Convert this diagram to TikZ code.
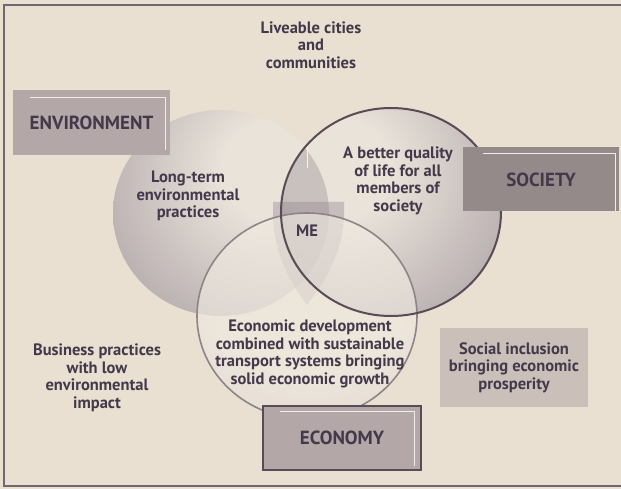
\documentclass[tikz,border=0pt]{standalone}
\usepackage{fontspec}
\setmainfont{PT Sans}
\usepackage{tikz}

\definecolor{paper}{HTML}{E9E0D2}
\definecolor{ink}{HTML}{43394A}
\definecolor{boxgray}{HTML}{B3A8A7}
\definecolor{boxdark}{HTML}{958A8A}
\definecolor{boxlite}{HTML}{CBC0B9}
\definecolor{rimdark}{HTML}{5A4B55}
\definecolor{rimlite}{HTML}{8E8487}
\definecolor{sphlite}{HTML}{EAE3DA}
\definecolor{sphdark}{HTML}{928790}
\definecolor{lowlite}{HTML}{F0EAE1}
\definecolor{lowdark}{HTML}{C6BCB8}

\pgfdeclareradialshading{sphleft}{\pgfpoint{14bp}{12bp}}{color(0bp)=(sphlite); color(12bp)=(sphlite); color(58bp)=(sphdark); color(100bp)=(sphdark)}
\pgfdeclareradialshading{sphright}{\pgfpoint{-14bp}{12bp}}{color(0bp)=(sphlite); color(12bp)=(sphlite); color(58bp)=(sphdark); color(100bp)=(sphdark)}
\pgfdeclareradialshading{sphlow}{\pgfpoint{0bp}{14bp}}{color(0bp)=(lowlite); color(25bp)=(lowlite); color(62bp)=(lowdark); color(100bp)=(lowdark)}

\tikzset{
  note/.style={text=ink, font=\bfseries\fontsize{16.5}{17.5}\selectfont, align=center, inner sep=0pt},
  labelbox/.style={text=ink, font=\bfseries\fontsize{19}{21}\selectfont, inner sep=0pt},
  hilite/.style={draw=white!70!boxlite, line width=1.3pt}
}

\begin{document}
\begin{tikzpicture}[x=1pt, y=-1pt]
    \useasboundingbox (0,0) rectangle (621,489);
    \fill[paper] (0,0) rectangle (621,489);
    \draw[rimdark!85, line width=1.3pt] (621,5) -- (4,5) -- (4,486) -- (621,486);

    % environment and society spheres
    \shade[shading=sphleft] (221,213) ellipse [x radius=108pt, y radius=103pt];
    \shade[shading=sphright] (391,212) ellipse [x radius=110pt, y radius=104pt];
    \begin{scope}
        \clip (221,213) ellipse [x radius=108pt, y radius=103pt];
        \fill[rimlite, opacity=.35] (391,212) ellipse [x radius=110pt, y radius=104pt];
    \end{scope}
    \draw[white!60!paper, line width=1pt] (307,145) -- (307,168);

    % shield behind ME
    \fill[sphdark, opacity=.4] (273,202) -- (344,202) -- (344,214)
        .. controls (344,250) and (325,282) .. (307,305)
        .. controls (289,282) and (273,250) .. (273,214) -- cycle;

    % economy sphere on top
    \shade[shading=sphlow, opacity=.65] (307,316) ellipse [x radius=110pt, y radius=103pt];
    \draw[rimlite, line width=1.6pt] (307,316) ellipse [x radius=110pt, y radius=103pt];
    \draw[rimdark, line width=2pt] (391,212) ellipse [x radius=110pt, y radius=104pt];

    % boxes
    \node[labelbox, fill=boxgray, minimum width=157pt, minimum height=65pt] (environment) at (91.5,122.5) {ENVIRONMENT};
    \draw[hilite] ([xshift=17pt,yshift=-8pt]environment.north west) -- ([xshift=-5pt,yshift=-8pt]environment.north east) -- ([xshift=-5pt,yshift=5pt]environment.south east);
    \node[labelbox, fill=boxdark, minimum width=156pt, minimum height=64pt] (society) at (541,179.5) {SOCIETY};
    \draw[hilite] ([xshift=20pt,yshift=-6pt]society.north west) -- ([xshift=-4pt,yshift=-6pt]society.north east) -- ([xshift=-4pt,yshift=1pt]society.south east);
    \node[labelbox, fill=boxgray, draw=rimdark, line width=2.5pt, minimum width=158pt, minimum height=64pt] (economy) at (342,438) {ECONOMY};
    \draw[hilite] ([xshift=18pt,yshift=-7pt]economy.north west) -- ([xshift=-8pt,yshift=-7pt]economy.north east) -- ([xshift=-8pt,yshift=5pt]economy.south east);
    \node[note, fill=boxlite, minimum width=148pt, minimum height=79pt] (inclusion) at (514,367.5) {Social inclusion\\bringing economic\\prosperity};

    % texts
    \node[note] (liveable) at (311,45) {Liveable cities\\and\\communities};
    \node[note] (longterm) at (188,196) {Long-term\\environmental\\practices};
    \node[note] (quality) at (398,181) {A better quality\\of life for all\\members of\\society};
    \node[note] (me) at (307,231) {ME};
    \node[note] (development) at (310,354) {Economic development\\combined with sustainable\\transport systems bringing\\solid economic growth};
    \node[note] (business) at (97,378) {Business practices\\with low\\environmental\\impact};
\end{tikzpicture}
\end{document}
